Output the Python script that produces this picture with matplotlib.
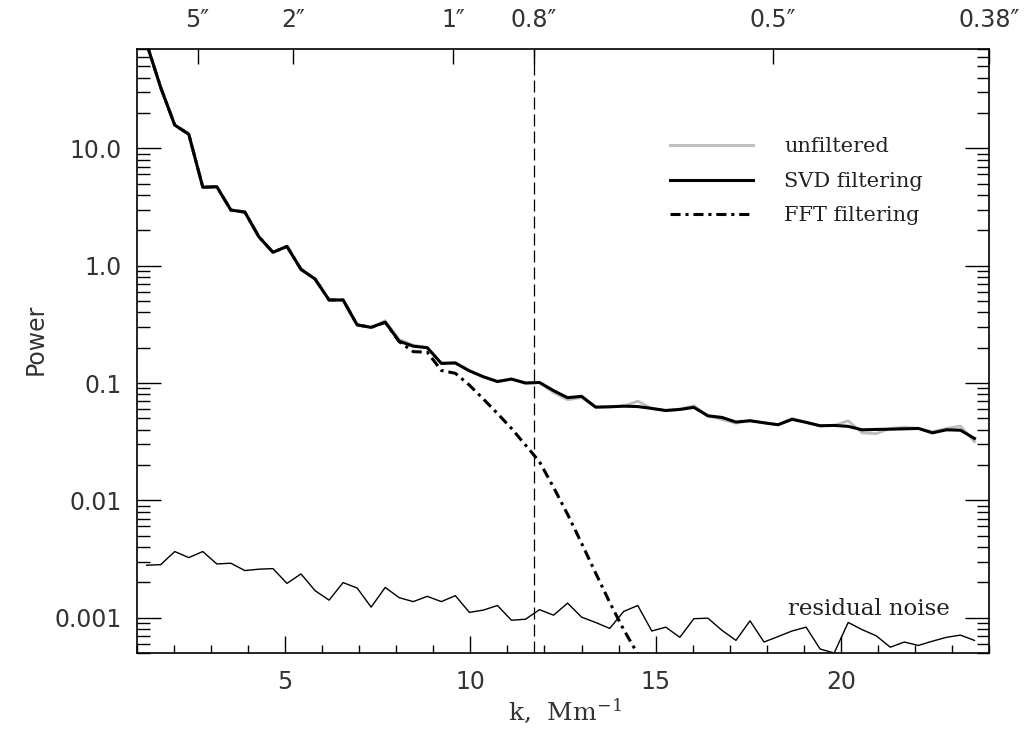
import numpy as np
import matplotlib
matplotlib.use("Agg")
import matplotlib.pyplot as plt
from matplotlib.ticker import FixedLocator, FixedFormatter, MultipleLocator, LogLocator, NullFormatter

plt.rcParams['mathtext.default'] = 'regular'

# wavenumber grid (Mm^-1)
k = 1.268 + 0.3785 * np.arange(60)

svd = [78, 33, 15.8, 13.2, 4.66, 4.71, 2.98, 2.86, 1.76, 1.30,
       1.46, 0.93, 0.77, 0.51, 0.51, 0.313, 0.298, 0.33, 0.227, 0.206,
       0.200, 0.147, 0.148, 0.127, 0.113, 0.103, 0.108, 0.100, 0.101, 0.086,
       0.075, 0.077, 0.0623, 0.0627, 0.0635, 0.063, 0.0607, 0.0583, 0.0595, 0.062,
       0.0525, 0.0509, 0.0465, 0.0477, 0.0458, 0.0441, 0.049, 0.0462, 0.0432, 0.0435,
       0.0427, 0.0399, 0.0402, 0.0404, 0.0407, 0.041, 0.0376, 0.0399, 0.0396, 0.0337]

unfiltered = [78, 33, 15.8, 13.2, 4.66, 4.71, 2.98, 2.86, 1.76, 1.30,
              1.46, 0.93, 0.77, 0.51, 0.51, 0.313, 0.298, 0.34, 0.235, 0.21,
              0.200, 0.147, 0.150, 0.127, 0.113, 0.103, 0.108, 0.100, 0.101, 0.083,
              0.072, 0.075, 0.0623, 0.0627, 0.0635, 0.070, 0.0607, 0.0583, 0.0600, 0.064,
              0.0525, 0.049, 0.0455, 0.0477, 0.0458, 0.0441, 0.050, 0.0462, 0.0432, 0.0435,
              0.0476, 0.0376, 0.037, 0.041, 0.042, 0.041, 0.0385, 0.041, 0.043, 0.0316]

fft = [78, 33, 15.8, 13.2, 4.66, 4.71, 2.98, 2.86, 1.76, 1.30,
       1.46, 0.93, 0.77, 0.51, 0.51, 0.313, 0.298, 0.33, 0.225, 0.185,
       0.183, 0.128, 0.121, 0.096, 0.073, 0.055, 0.041, 0.0296, 0.0213, 0.0129,
       0.0076, 0.0043, 0.0024, 0.00135, 0.00079, 0.00049, 0.00028]

noise = [0.00280, 0.00283, 0.00366, 0.00325, 0.00366, 0.00287, 0.00291, 0.00252, 0.00259, 0.00262,
         0.00196, 0.00236, 0.00170, 0.00141, 0.00199, 0.00179, 0.00123, 0.00181, 0.00148, 0.00137,
         0.00152, 0.00137, 0.00154, 0.00111, 0.00116, 0.00127, 0.00095, 0.00097, 0.00117, 0.00105,
         0.00133, 0.00101, 0.00091, 0.00081, 0.00113, 0.00127, 0.00077, 0.00083, 0.00068, 0.00098,
         0.00099, 0.00078, 0.00064, 0.00094, 0.00062, 0.00069, 0.00077, 0.00083, 0.00054, 0.00050,
         0.00091, 0.00079, 0.00070, 0.00056, 0.00062, 0.00058, 0.00063, 0.00068, 0.00071, 0.00064]

k_cut = 11.71

y_ticks = [0.001, 0.01, 0.1, 1.0, 10.0]
y_ticklabels = ["0.001", "0.01", "0.1", "1.0", "10.0"]
x_ticks = [5, 10, 15, 20]
top_ticks = [2.64, 5.22, 9.53, 11.71, 18.16, 24.0]
top_labels = ["5\u2033", "2\u2033", "1\u2033", "0.8\u2033", "0.5\u2033", "0.38\u2033"]

sans = "DejaVu Sans"
serif = "DejaVu Serif"
txtcol = "#333333"

fig = plt.figure(figsize=(10.25, 7.31), dpi=100)
ax = fig.add_axes([0.1334, 0.1063, 0.8318, 0.8267])

ax.plot(k[:len(fft)], fft, color="black", lw=2.2, dashes=(3.3, 1.6, 1.0, 1.6), label="FFT filtering", zorder=2)
ax.plot(k, unfiltered, color="#bdbdbd", lw=2.0, label="unfiltered", zorder=3)
ax.plot(k, svd, color="black", lw=2.2, label="SVD filtering", zorder=4)
ax.plot(k, noise, color="black", lw=1.0, zorder=3)
ax.axvline(k_cut, color="black", lw=0.9, dashes=(9.6, 4.0), zorder=1)

ax.set_yscale("log")
ax.set_xlim(1.0, 24.0)
ax.set_ylim(4.97e-4, 70.3)

ax.yaxis.set_major_locator(FixedLocator(y_ticks))
ax.yaxis.set_major_formatter(FixedFormatter(y_ticklabels))
ax.yaxis.set_minor_locator(LogLocator(base=10, subs=np.arange(2, 10), numticks=20))
ax.yaxis.set_minor_formatter(NullFormatter())
ax.xaxis.set_major_locator(FixedLocator(x_ticks))
ax.xaxis.set_minor_locator(MultipleLocator(1))

ax.tick_params(axis="x", which="major", direction="in", length=12, width=1.0, top=False,
               labelsize=17, pad=12, labelcolor=txtcol)
ax.tick_params(axis="x", which="minor", direction="in", length=6, width=1.0, top=False)
ax.tick_params(axis="y", which="major", direction="in", length=17, width=1.0, right=True,
               labelsize=17, pad=11, labelcolor=txtcol)
ax.tick_params(axis="y", which="minor", direction="in", length=9, width=1.0, right=True)
for lab in ax.get_xticklabels() + ax.get_yticklabels():
    lab.set_family(sans)
for sp in ax.spines.values():
    sp.set_linewidth(1.2)

ax.set_xlabel("k,  Mm$^{-1}$", family=serif, fontsize=18, color=txtcol)
ax.xaxis.set_label_coords(0.502, -0.072)
ax.set_ylabel("Power", family=sans, fontsize=17, color=txtcol)
ax.yaxis.set_label_coords(-0.105, 0.52)

top = ax.twiny()
top.set_xlim(ax.get_xlim())
top.xaxis.set_major_locator(FixedLocator(top_ticks))
top.xaxis.set_major_formatter(FixedFormatter(top_labels))
top.xaxis.set_minor_locator(FixedLocator([]))
top.tick_params(axis="x", which="major", direction="in", length=11, width=1.0,
                labelsize=17, pad=12, labelcolor=txtcol)
for lab in top.get_xticklabels():
    lab.set_family(sans)
for sp in top.spines.values():
    sp.set_visible(False)

handles, labels = ax.get_legend_handles_labels()
order = [1, 2, 0]
leg = ax.legend([handles[i] for i in order], [labels[i] for i in order],
                loc="upper left", bbox_to_anchor=(0.603, 0.885), frameon=False,
                prop={"family": serif, "size": 15}, handlelength=4.0, handletextpad=1.5,
                labelspacing=0.75)
for t in leg.get_texts():
    t.set_color("#222222")

ax.text(20.75, 0.00119, "residual noise", family=serif, fontsize=16.5, color="#222222",
        ha="center", va="center")

fig.savefig("out.png", dpi=100)
